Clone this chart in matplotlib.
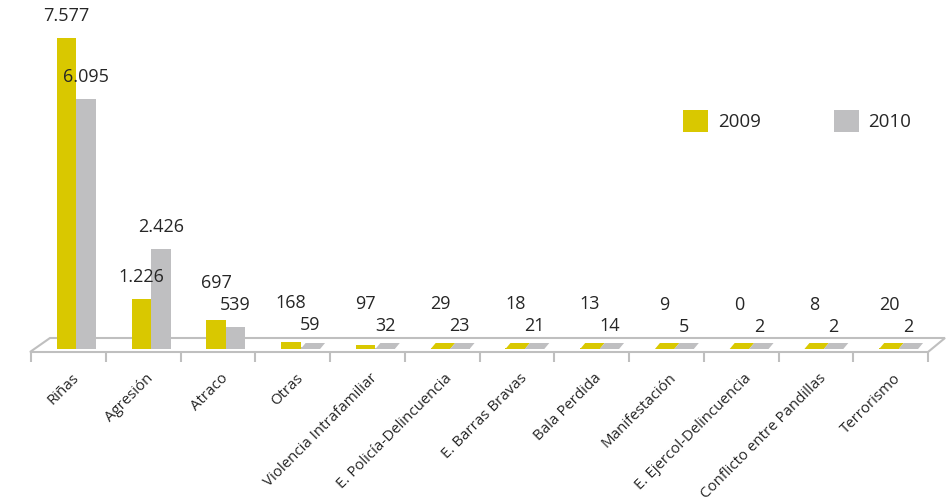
import matplotlib.pyplot as plt
from matplotlib.patches import Polygon, Patch
from matplotlib.transforms import IdentityTransform, ScaledTranslation
import numpy as np

categorias = ["Riñas", "Agresión", "Atraco", "Otras", "Violencia Intrafamiliar",
              "E. Policía-Delincuencia", "E. Barras Bravas", "Bala Perdida",
              "Manifestación", "E. Ejercol-Delincuencia", "Conflicto entre Pandillas",
              "Terrorismo"]
v2009 = [7577, 1226, 697, 168, 97, 29, 18, 13, 9, 0, 8, 20]
v2010 = [6095, 2426, 539, 59, 32, 23, 21, 14, 5, 2, 2, 2]

amarillo = "#D9C800"
gris = "#BFBFC1"
linea = "#BFBFBF"
texto = "#262626"

plt.rcParams['font.family'] = ['Open Sans', 'DejaVu Sans']

W, H = 947, 501
fig = plt.figure(figsize=(W / 100, H / 100), dpi=100)
ax = fig.add_axes([31 / W, (H - 349) / H, (928 - 31) / W, (349 - 38) / H])
n = len(categorias)
ax.set_xlim(-0.5, n - 0.5)
ax.set_ylim(0, 7577)
ax.set_facecolor("none")

sx = n / (928 - 31)          # data units per pixel along x
escala = (349 - 38) / 7577   # pixels per unit along y
desp = 8 * sx
ancho = 0.26
x = np.arange(n)
xa = x + desp - ancho / 2
xg = x + desp + ancho / 2

def disp(xx, yy, dx=0, dy=0):
    X, Y = ax.transData.transform((xx, yy))
    return (X + dx, Y + dy)

# floor
fondo = [disp(-0.5, 0, -1, -3), disp(n - 0.5, 0, 0, -3),
         disp(n - 0.5, 0, 17, 11), disp(-0.5, 0, 19, 11)]
ax.add_patch(Polygon(fondo, closed=True, facecolor="white", edgecolor=linea,
                     lw=1.5, transform=IdentityTransform(), clip_on=False, zorder=1))

# visible top face of the very small bars
for xs, vals, col in [(xa, v2009, amarillo), (xg, v2010, gris)]:
    for xi, v in zip(xs, vals):
        if v * escala > 3:
            continue
        p = [disp(xi - ancho / 2, 0), disp(xi + ancho / 2, 0),
             disp(xi + ancho / 2, 0, 5, 6), disp(xi - ancho / 2, 0, 5, 6)]
        ax.add_patch(Polygon(p, closed=True, facecolor=col, edgecolor="none",
                             transform=IdentityTransform(), clip_on=False, zorder=2))

ax.bar(xa, v2009, width=ancho, color=amarillo, zorder=3, clip_on=False, label="2009")
ax.bar(xg, v2010, width=ancho, color=gris, zorder=3, clip_on=False, label="2010")

def fmt(v):
    return f"{v:,}".replace(",", ".")

for i in range(n):
    hy = v2009[i] * escala
    hg = v2010[i] * escala
    oy_g = 22
    oy_a = 22
    if abs(hy - hg) < 24:
        oy_a = hg + 44 - hy
    ax.annotate(fmt(v2010[i]), (xg[i], v2010[i]), xytext=(0, oy_g * 0.72),
                textcoords="offset points", ha="center", va="center",
                fontsize=13, color=texto, annotation_clip=False, zorder=5)
    ax.annotate(fmt(v2009[i]), (xa[i], v2009[i]), xytext=(0, oy_a * 0.72),
                textcoords="offset points", ha="center", va="center",
                fontsize=13, color=texto, annotation_clip=False, zorder=5)
    ax.annotate(categorias[i], (i, 0), xytext=(8 * 0.72, -27 * 0.72),
                textcoords="offset points", ha="right", va="center",
                rotation=45, rotation_mode="anchor", fontsize=10.8,
                color=texto, annotation_clip=False)

for s in ["top", "right", "left", "bottom"]:
    ax.spines[s].set_visible(False)
ax.set_yticks([])
ax.set_xticks(np.arange(-0.5, n, 1.0))
ax.set_xticklabels([])
ax.tick_params(axis="x", length=10 * 0.72, width=1.5, color=linea, direction="out",
               pad=0)
for t in ax.xaxis.get_major_ticks():
    t.tick1line.set_transform(ax.get_xaxis_transform() +
                              ScaledTranslation(0, -3 / 100, fig.dpi_scale_trans))

handles = [Patch(facecolor=amarillo, label="2009"), Patch(facecolor=gris, label="2010")]
fig.legend(handles=handles, loc="center left", bbox_to_anchor=(683 / W, 1 - 121 / H),
           bbox_transform=fig.transFigure, ncol=2, frameon=False, fontsize=13.5,
           handlelength=1.35, handleheight=1.35, handletextpad=0.5, columnspacing=3.9,
           borderpad=0, borderaxespad=0, labelcolor=texto)

fig.savefig("out.png", dpi=100)
